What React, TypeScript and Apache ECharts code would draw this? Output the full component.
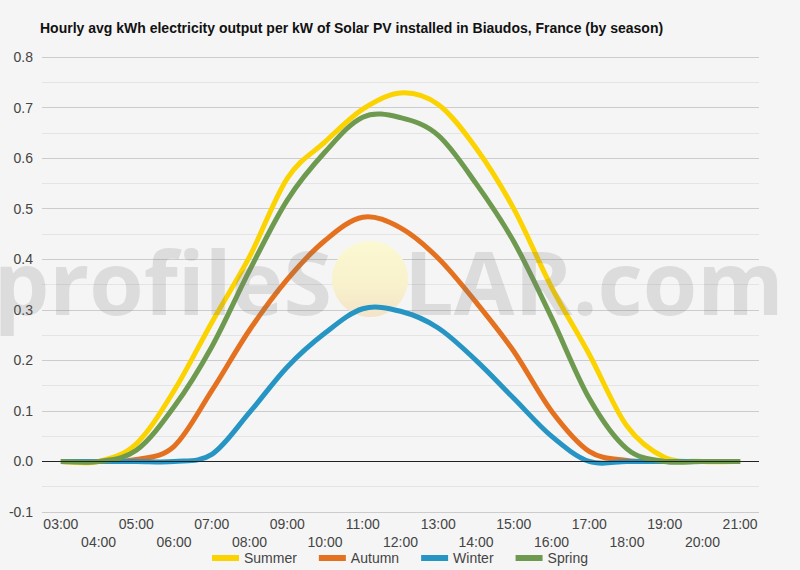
import React, { useEffect, useRef } from 'react';
import * as echarts from 'echarts';

const hours = [
  '03:00', '04:00', '05:00', '06:00', '07:00', '08:00', '09:00', '10:00', '11:00', '12:00',
  '13:00', '14:00', '15:00', '16:00', '17:00', '18:00', '19:00', '20:00', '21:00',
];

const summer = [0, 0, 0.035, 0.14, 0.275, 0.405, 0.56, 0.632, 0.697, 0.729, 0.706, 0.62, 0.5, 0.345, 0.212, 0.07, 0.008, 0, 0];
const autumn = [0, 0, 0.004, 0.03, 0.14, 0.26, 0.36, 0.437, 0.483, 0.462, 0.402, 0.315, 0.218, 0.1, 0.02, 0.002, 0, 0, 0];
const winter = [0, 0, 0, 0, 0.014, 0.097, 0.187, 0.254, 0.302, 0.297, 0.264, 0.2, 0.125, 0.05, 0, 0, 0, 0, 0];
const spring = [0, 0, 0.022, 0.108, 0.227, 0.378, 0.517, 0.612, 0.681, 0.68, 0.645, 0.55, 0.435, 0.285, 0.125, 0.025, 0, 0, 0];

const seriesNames = ['Summer', 'Autumn', 'Winter', 'Spring'];
const seriesColors = ['#fbd300', '#e4711f', '#2795c3', '#6e9a4f'];

const title = 'Hourly avg kWh electricity output per kW of Solar PV installed in Biaudos, France (by season)';

// catmull-rom through the points, like the original chart's "function" curves
const smoothPath = (pts: number[][]) => {
  let d = `M${pts[0][0]},${pts[0][1]}`;
  for (let i = 0; i < pts.length - 1; i++) {
    const p0 = pts[i - 1] || pts[i];
    const p1 = pts[i];
    const p2 = pts[i + 1];
    const p3 = pts[i + 2] || p2;
    const c1x = p1[0] + (p2[0] - p0[0]) / 6;
    const c1y = p1[1] + (p2[1] - p0[1]) / 6;
    const c2x = p2[0] - (p3[0] - p1[0]) / 6;
    const c2y = p2[1] - (p3[1] - p1[1]) / 6;
    d += ` C${c1x},${c1y} ${c2x},${c2y} ${p2[0]},${p2[1]}`;
  }
  return d;
};

const watermarkText = (text: string, x: number, align: string) => ({
  type: 'text',
  x,
  y: 281,
  z: 100,
  style: {
    text,
    fontFamily: 'Open Sans',
    fontWeight: 'bold',
    fontSize: 88,
    fill: 'rgba(120,120,120,0.2)',
    textAlign: align,
    textVerticalAlign: 'middle',
  },
});

const App: React.FC = () => {
  const chartRef = useRef<HTMLDivElement>(null);

  useEffect(() => {
    document.body.style.margin = '0';
    if (!chartRef.current) return;
    const chart = echarts.init(chartRef.current, undefined, { renderer: 'svg' });
    const values = [summer, autumn, winter, spring];

    chart.setOption({
      animation: false,
      backgroundColor: '#f5f5f5',
      textStyle: { fontFamily: 'Liberation Sans, Arial, sans-serif' },
      title: {
        text: title,
        left: 35,
        top: 16,
        textStyle: { fontSize: 14, fontWeight: 'bold', color: '#111' },
      },
      grid: { left: 42, right: 41, top: 57, bottom: 58 },
      legend: {
        bottom: 0,
        left: 'center',
        icon: 'rect',
        itemWidth: 27,
        itemHeight: 6,
        itemGap: 22,
        textStyle: { fontSize: 14, color: '#444' },
        data: seriesNames,
      },
      xAxis: {
        type: 'category',
        data: hours,
        boundaryGap: true,
        axisLine: { show: false },
        axisTick: { show: false },
        axisLabel: {
          interval: 0,
          fontSize: 14,
          color: '#444',
          lineHeight: 18,
          margin: 3,
          formatter: (v: string, i: number) => (i % 2 ? '\n' + v : v),
        },
      },
      yAxis: {
        type: 'value',
        min: -0.1,
        max: 0.8,
        interval: 0.1,
        axisLine: { show: false },
        axisTick: { show: false },
        axisLabel: {
          fontSize: 14,
          color: '#444',
          margin: 9,
          formatter: (v: number) => v.toFixed(1),
        },
        splitLine: { lineStyle: { color: '#cccccc' } },
        minorTick: { show: false, splitNumber: 2 },
        minorSplitLine: { show: true, lineStyle: { color: '#e4e4e4' } },
      },
      graphic: [
        {
          type: 'circle',
          shape: { cx: 370, cy: 279, r: 38 },
          z: 1,
          style: {
            fill: new echarts.graphic.LinearGradient(0, 0, 0, 1, [
              { offset: 0, color: '#fbf8d2' },
              { offset: 0.6, color: '#f8f1cc' },
              { offset: 1, color: '#f4e3c8' },
            ]),
          },
        },
        watermarkText('profileS', 332, 'right'),
        watermarkText('LAR.com', 404, 'left'),
      ],
      series: [
        ...values.map((vals, i) => ({
          name: seriesNames[i],
          type: 'custom',
          data: vals.map((v, k) => [k, v]),
          encode: { x: 0, y: 1 },
          itemStyle: { color: seriesColors[i] },
          z: 3,
          renderItem: (params: any, api: any) => {
            if (params.dataIndex !== 0) return null;
            const pts = vals.map((v, k) => api.coord([k, v]));
            return {
              type: 'path',
              shape: { pathData: smoothPath(pts) },
              style: { fill: 'none', stroke: seriesColors[i], lineWidth: 5, lineJoin: 'round' },
            };
          },
        })),
        {
          type: 'line',
          data: [],
          silent: true,
          z: 2,
          markLine: {
            silent: true,
            symbol: 'none',
            label: { show: false },
            lineStyle: { color: '#222', width: 1, type: 'solid' },
            data: [{ yAxis: 0 }],
          },
        },
      ],
    });

    return () => chart.dispose();
  }, []);

  return <div ref={chartRef} style={{ width: 800, height: 570 }} />;
};

export default App;
